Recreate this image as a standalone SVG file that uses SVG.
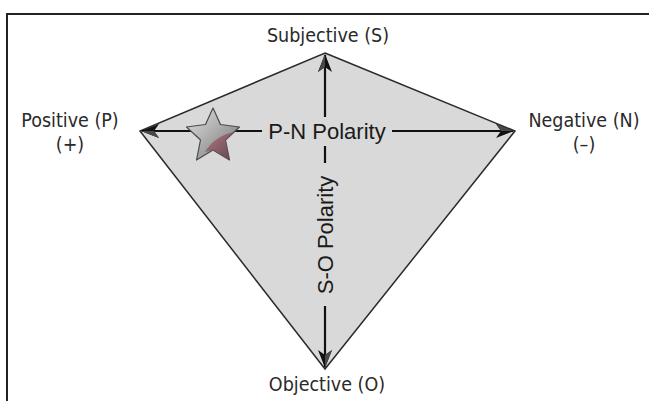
<svg xmlns="http://www.w3.org/2000/svg" width="649" height="401" viewBox="0 0 649 401">
  <style>
    .frame { fill: none; stroke: #222; stroke-width: 2; }
    .kite { fill: #d9d9d9; stroke: #2a2a2a; stroke-width: 1.5; stroke-linejoin: miter; }
    .axis { fill: none; stroke: #111; stroke-width: 2.2; }
    .pole { font-family: "DejaVu Sans Condensed", "Liberation Sans Narrow", sans-serif; font-size: 19.5px; fill: #2a2a2a; text-anchor: middle; }
    .axis-label { font-family: "Liberation Sans", Arial, sans-serif; font-size: 22px; fill: #1a1a1a; text-anchor: middle; }
  </style>
  <defs>
    <marker id="tip" viewBox="0 0 18 14" refX="17" refY="7" markerWidth="18" markerHeight="14" markerUnits="userSpaceOnUse" orient="auto">
      <path d="M0,0 L18,7 L0,14 L5,7 Z" fill="#111"/>
      <path d="M0,0 L18,7 L5,7 Z" fill="#484848"/>
    </marker>
    <linearGradient id="starFill" x1="0" y1="0" x2="1" y2="1">
      <stop offset="0" stop-color="#e4e4e4"/>
      <stop offset="0.5" stop-color="#ababab"/>
      <stop offset="1" stop-color="#707070"/>
    </linearGradient>
    <linearGradient id="starShade" x1="0" y1="0" x2="1" y2="1">
      <stop offset="0" stop-color="#b36c7a"/>
      <stop offset="1" stop-color="#5d3d48"/>
    </linearGradient>
  </defs>

  <!-- outer frame: top and left rules only -->
  <path class="frame" d="M7,401 L7,14 L649,14"/>

  <g id="kite">
    <polygon class="kite" points="325,53 515,131 325,369 140,131"/>
  </g>

  <g id="connectors">
    <!-- P-N polarity axis -->
    <line class="axis" x1="262" y1="131" x2="142" y2="131" marker-end="url(#tip)"/>
    <line class="axis" x1="392" y1="131" x2="513" y2="131" marker-end="url(#tip)"/>
    <!-- S-O polarity axis -->
    <line class="axis" x1="325" y1="117" x2="325" y2="55" marker-end="url(#tip)"/>
    <line class="axis" x1="325" y1="146" x2="325" y2="163"/>
    <line class="axis" x1="325" y1="306" x2="325" y2="367" marker-end="url(#tip)"/>
  </g>

  <g id="star">
    <polygon points="213,108 220.5,124.5 239.5,127 225.5,140 229.5,160 213,150 196.5,160 200.5,140 186.5,127 205.5,124.5" fill="url(#starFill)" stroke="#4a4a4a" stroke-width="1.2" stroke-linejoin="round"/>
    <path d="M225.5,140 L229.5,160 L213,150 L205,152 C211,142 220,135 234,132 Z" fill="url(#starShade)" opacity="0.85"/>
  </g>

  <g id="node-subjective">
    <text class="pole" x="328" y="42">Subjective (S)</text>
  </g>
  <g id="node-objective">
    <text class="pole" x="327" y="391">Objective (O)</text>
  </g>
  <g id="node-positive">
    <text class="pole" x="70" y="127">Positive (P)</text>
    <text class="pole" x="70" y="151">(+)</text>
  </g>
  <g id="node-negative">
    <text class="pole" x="584" y="127">Negative (N)</text>
    <text class="pole" x="584" y="151">(–)</text>
  </g>

  <g id="axis-labels">
    <text class="axis-label" x="327" y="139">P-N Polarity</text>
    <text class="axis-label" transform="translate(333,235) rotate(-90)">S-O Polarity</text>
  </g>
</svg>
